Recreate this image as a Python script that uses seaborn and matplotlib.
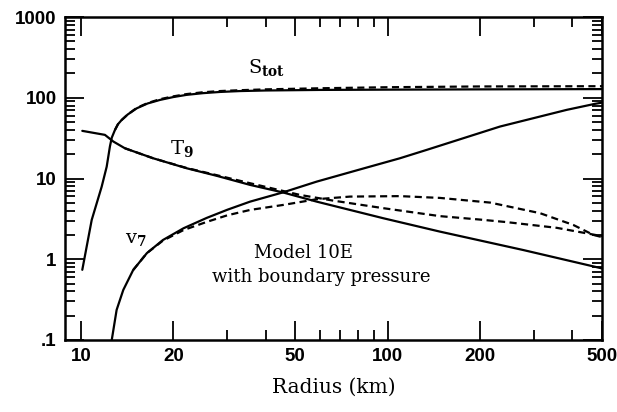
import matplotlib
matplotlib.use("Agg")
import matplotlib.pyplot as plt
import matplotlib.ticker as mticker
import numpy as np
import pandas as pd
import seaborn as sns

# radius (km) and values
r_s = [10.1, 10.84, 11.68, 12.13, 12.43, 12.6, 12.91, 13.2, 13.57, 14.2, 15.2, 16.5, 18.1, 20, 22.1, 25, 28.4, 33, 40, 60, 100, 200, 500]
s_solid = [0.74, 3.07, 7.9, 14.0, 25, 32, 40, 47, 53, 62, 74, 85, 94, 102, 108.6, 114, 118, 121, 123, 125, 126, 127, 128]
r_s_d = [12.91, 13.2, 13.57, 14.2, 15.2, 16.5, 18.1, 20, 22.1, 25, 28.4, 33, 40, 60, 100, 200, 500]
s_dash = [40, 47, 53, 62, 75, 86, 96, 104, 111, 117, 121, 124, 127, 131, 135, 138, 139]

r_t = [10.1, 11.97, 12.75, 13.9, 17.2, 22.1, 27.7, 35.6, 45.7, 58.7, 96.8, 148, 277, 500]
t_solid = [38.9, 34.7, 28.7, 23.7, 17.8, 13.4, 10.8, 8.33, 6.7, 5.17, 3.22, 2.20, 1.30, 0.77]
r_t_d = [13.9, 17.2, 22.1, 27.7, 35.6, 51.8, 66.5, 96.8, 148, 200, 245, 356, 469, 500]
t_dash = [23.7, 17.8, 13.5, 11.0, 8.74, 6.26, 5.32, 4.29, 3.42, 3.1, 2.88, 2.45, 2.02, 1.93]

r_v = [12.5, 12.6, 13.07, 13.74, 14.8, 16.4, 18.5, 21.6, 25.7, 30, 35.6, 45.7, 58.7, 83.3, 109.6, 134, 232.5, 383.6, 474, 500]
v_solid = [0.085, 0.1, 0.236, 0.417, 0.736, 1.19, 1.73, 2.42, 3.25, 4.1, 5.17, 6.75, 9.15, 13.3, 17.8, 22.6, 44, 70.8, 84, 87]
r_v_d = [14.8, 16.4, 18.5, 21.6, 25.7, 30, 35.6, 45.7, 58.7, 75.4, 109.7, 148, 216, 314, 403, 469, 500]
v_dash = [0.736, 1.19, 1.70, 2.30, 2.90, 3.5, 4.08, 4.71, 5.54, 5.97, 6.05, 5.75, 5.03, 3.72, 2.66, 2.0, 1.88]

x_major = [10, 20, 50, 100, 200, 500]
x_minor = [30, 40, 60, 70, 80, 90, 300, 400]
y_labels = {0.1: ".1", 1: "1", 10: "10", 100: "100", 1000: "1000"}

sns.set_style("ticks")
plt.rcParams["mathtext.fontset"] = "dejavuserif"
plt.rcParams["text.color"] = "black"
plt.rcParams["axes.labelcolor"] = "black"
plt.rcParams["xtick.color"] = "black"
plt.rcParams["ytick.color"] = "black"

fig = plt.figure(figsize=(6.17, 4.12), dpi=100)
ax = fig.add_axes([65 / 617, 1 - 340 / 412, 537 / 617, 323 / 412])
ax.set_xscale("log")
ax.set_yscale("log")

lw = 1.6
curves = [
    (r_s, s_solid, "-"), (r_s_d, s_dash, "--"),
    (r_t, t_solid, "-"), (r_t_d, t_dash, "--"),
    (r_v, v_solid, "-"), (r_v_d, v_dash, "--"),
]
for xs, ys, ls in curves:
    sns.lineplot(x=xs, y=ys, color="black", estimator=None, sort=False,
                 linewidth=lw, ax=ax)
    line = ax.lines[-1]
    line.set_linestyle(ls)
    if ls == "--":
        line.set_dashes((3.2, 2.0))

ax.set_xlim(8.87, 500)
ax.set_ylim(0.1, 1000)

ax.xaxis.set_major_locator(mticker.FixedLocator(x_major))
ax.xaxis.set_minor_locator(mticker.FixedLocator(x_minor))
ax.xaxis.set_major_formatter(mticker.FixedFormatter([str(v) for v in x_major]))
ax.xaxis.set_minor_formatter(mticker.NullFormatter())
ax.yaxis.set_major_locator(mticker.FixedLocator(list(y_labels.keys())))
ax.yaxis.set_major_formatter(mticker.FixedFormatter(list(y_labels.values())))
ax.yaxis.set_minor_locator(mticker.LogLocator(base=10, subs=np.arange(2, 10)))
ax.yaxis.set_minor_formatter(mticker.NullFormatter())

ax.tick_params(which="both", direction="in", top=True, right=True, color="black",
               width=1.3, labelsize=13.5, pad=6)
ax.tick_params(which="major", length=14)
ax.tick_params(which="minor", length=7)
for lab in ax.get_xticklabels() + ax.get_yticklabels():
    lab.set_fontfamily("Liberation Sans")
    lab.set_fontweight("bold")
for sp in ax.spines.values():
    sp.set_linewidth(1.8)
    sp.set_color("black")

ax.set_xlabel("Radius (km)", fontsize=14.5, family="DejaVu Serif", labelpad=9)
ax.set_ylabel("")

ax.text(40.4, 240, r"$\mathrm{S}_{\mathbf{tot}}$", fontsize=14, ha="center", va="center")
ax.text(21.4, 23.7, r"$\mathrm{T}_{\mathbf{9}}$", fontsize=14, ha="center", va="center")
ax.text(15.1, 1.82, r"$\mathrm{v}_{\mathbf{7}}$", fontsize=14, ha="center", va="center")
ax.text(53.0, 1.03, "Model 10E", fontsize=13, family="DejaVu Serif", ha="center", va="baseline")
ax.text(60.7, 0.528, "with boundary pressure", fontsize=13, family="DejaVu Serif",
        ha="center", va="baseline")

fig.savefig("out.png", dpi=100)
